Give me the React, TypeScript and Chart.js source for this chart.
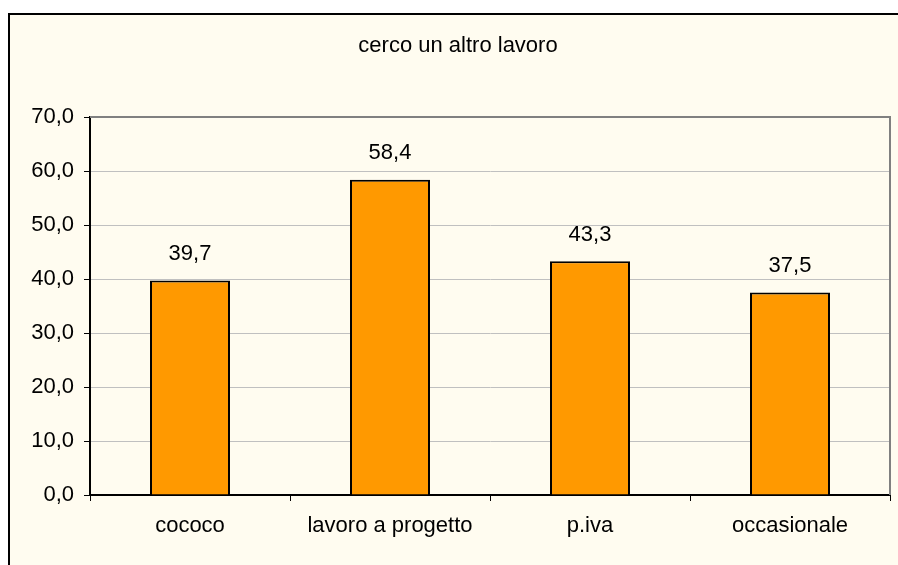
import React, { useEffect, useRef } from "react";
import { Chart, registerables } from "chart.js";

Chart.register(...registerables);

const categories = ["cococo", "lavoro a progetto", "p.iva", "occasionale"];
const values = [39.7, 58.4, 43.3, 37.5];
const titleText = "cerco un altro lavoro";
const yMin = 0;
const yMax = 70;
const yStep = 10;

const FONT = "'Liberation Sans', Arial, sans-serif";
const FONT_SIZE = 22;
const CREAM = "#FFFCF0";

const fmt = (v: number) => v.toFixed(1).replace(".", ",");

const framePlugin = {
  id: "frame",
  beforeDraw(chart: any) {
    const ctx = chart.ctx;
    const w = chart.width;
    const h = chart.height;
    ctx.save();
    ctx.fillStyle = "#FFFFFF";
    ctx.fillRect(0, 0, w, h);
    ctx.fillStyle = CREAM;
    ctx.fillRect(8, 13, w - 8, h - 13);
    ctx.fillStyle = "#000";
    ctx.fillRect(8, 13, 2, h - 13);
    ctx.fillRect(8, 13, w - 8, 2);
    ctx.font = `${FONT_SIZE}px ${FONT}`;
    ctx.textAlign = "center";
    ctx.textBaseline = "alphabetic";
    ctx.fillStyle = "#000";
    ctx.fillText(titleText, 458, 52);
    ctx.restore();
  },
  beforeDatasetsDraw(chart: any) {
    const { ctx, chartArea } = chart;
    ctx.save();
    ctx.strokeStyle = "#808080";
    ctx.lineWidth = 2;
    ctx.beginPath();
    ctx.moveTo(chartArea.left, chartArea.top);
    ctx.lineTo(chartArea.right, chartArea.top);
    ctx.lineTo(chartArea.right, chartArea.bottom);
    ctx.stroke();
    ctx.restore();
  },
  afterDatasetsDraw(chart: any) {
    const ctx = chart.ctx;
    const meta = chart.getDatasetMeta(0);
    ctx.save();
    ctx.font = `${FONT_SIZE}px ${FONT}`;
    ctx.textAlign = "center";
    ctx.textBaseline = "alphabetic";
    ctx.fillStyle = "#000";
    meta.data.forEach((el: any, i: number) => {
      ctx.fillText(fmt(values[i]), el.x, el.y - 20.5);
    });
    ctx.restore();
  },
};

export default function App() {
  const ref = useRef<HTMLCanvasElement | null>(null);
  useEffect(() => {
    if (!ref.current) return;
    const chart = new Chart(ref.current, {
      type: "bar",
      data: {
        labels: categories,
        datasets: [
          {
            data: values,
            backgroundColor: "#FF9900",
            borderColor: "#000000",
            borderWidth: 2,
            categoryPercentage: 1,
            barPercentage: 0.4,
          },
        ],
      },
      options: {
        animation: false,
        responsive: false,
        devicePixelRatio: 1,
        layout: { padding: { top: 117, right: 8, left: 0, bottom: 0 } },
        plugins: {
          legend: { display: false },
          title: { display: false },
          tooltip: { enabled: false },
        },
        scales: {
          x: {
            offset: true,
            grid: {
              offset: true,
              drawOnChartArea: false,
              drawTicks: true,
              tickLength: 6,
              tickColor: "#000",
              tickWidth: 1,
            },
            border: { display: true, color: "#000", width: 2 },
            ticks: {
              color: "#000",
              font: { family: FONT, size: FONT_SIZE },
              padding: 12,
              maxRotation: 0,
              autoSkip: false,
            },
            afterFit: (scale: any) => {
              scale.height = 70;
            },
          },
          y: {
            min: yMin,
            max: yMax,
            grid: {
              color: "#C0C0C0",
              lineWidth: 1,
              drawTicks: true,
              tickLength: 6,
              tickColor: "#000",
              tickWidth: 1,
            },
            border: { display: true, color: "#000", width: 2 },
            ticks: {
              stepSize: yStep,
              color: "#000",
              font: { family: FONT, size: FONT_SIZE },
              padding: 10,
              callback: (v: any) => fmt(Number(v)),
            },
            afterFit: (scale: any) => {
              scale.width = 90;
            },
          },
        },
      },
      plugins: [framePlugin],
    });
    return () => chart.destroy();
  }, []);
  return (
    <div style={{ position: "absolute", left: 0, top: 0, width: 898, height: 565 }}>
      <canvas ref={ref} width={898} height={565} style={{ display: "block" }} />
    </div>
  );
}
